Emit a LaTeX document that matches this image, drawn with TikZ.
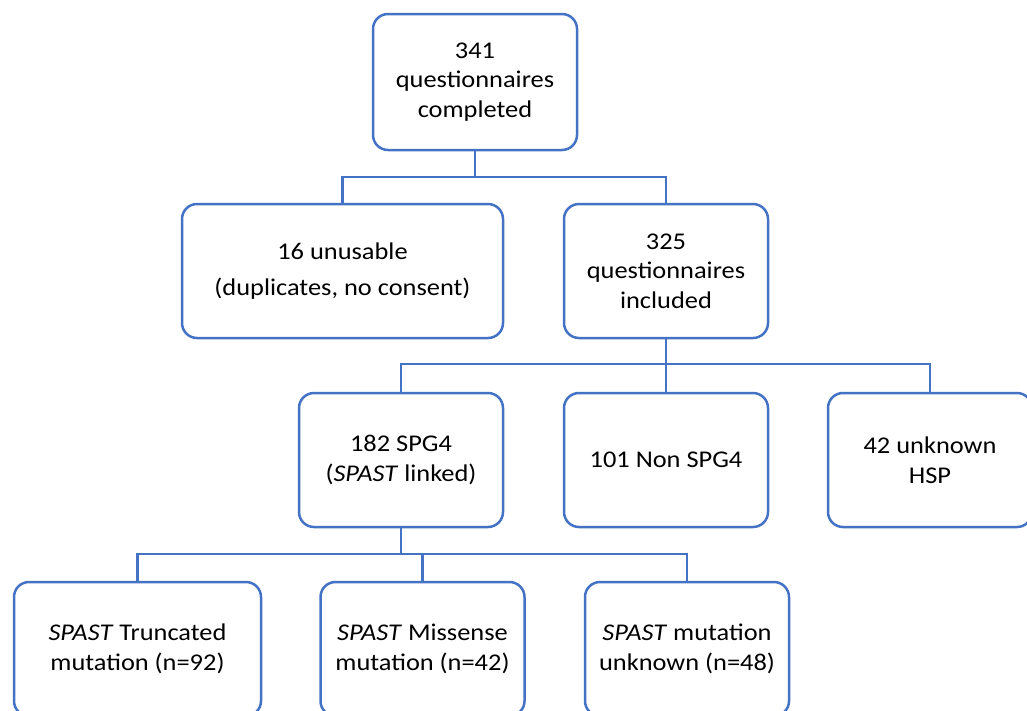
\documentclass[tikz,border=0pt]{standalone}
\usepackage{fontspec}
\setmainfont{Carlito}[FakeStretch=1.1]
\definecolor{boxblue}{RGB}{68,114,196}
\begin{document}
\begin{tikzpicture}[x=1pt,y=-1pt,
  box/.style={draw=boxblue, line width=2.5pt, rounded corners=15pt, align=center,
    inner sep=0pt, font=\fontsize{24}{29.5}\selectfont, minimum height=134pt},
  conn/.style={draw=boxblue, line width=2.5pt}]
\useasboundingbox[fill=white] (0,0) rectangle (1027,710);
\clip (0,0) rectangle (1027,710);
\node[box, minimum width=204pt, minimum height=136pt] (top) at (475,82) {341\\questionnaires\\completed};
\node[box, minimum width=321pt] (unus) at (342.5,271) {16 unusable\\[7pt](duplicates, no consent)};
\node[box, minimum width=204pt] (incl) at (666,271) {325\\questionnaires\\included};
\node[box, minimum width=204pt] (spg4) at (401,460) {182 SPG4\\(\textit{SPAST} linked)};
\node[box, minimum width=204pt] (non) at (666,460) {101 Non SPG4};
\node[box, minimum width=204pt] (unk) at (930,460) {42 unknown\\HSP};
\node[box, minimum width=247pt] (trunc) at (137.5,649) {\textit{SPAST} Truncated\\mutation (n=92)};
\node[box, minimum width=204pt] (miss) at (422.5,649) {\textit{SPAST} Missense\\mutation (n=42)};
\node[box, minimum width=204pt] (mut) at (687,649) {\textit{SPAST} mutation\\unknown (n=48)};
\coordinate (j1) at (top.south |- 0,177);
\coordinate (j2) at (incl.south |- 0,364);
\coordinate (j3) at (spg4.south |- 0,554);
\draw[conn] (top.south) -- (j1);
\draw[conn] (unus.north) |- (j1) -| (incl.north);
\draw[conn] (incl.south) -- (j2);
\draw[conn] (spg4.north) |- (j2) -| (unk.north);
\draw[conn] (j2) -- (non.north);
\draw[conn] (spg4.south) -- (j3);
\draw[conn] (trunc.north) |- (j3) -| (mut.north);
\draw[conn] (j3 -| miss.north) -- (miss.north);
\end{tikzpicture}
\end{document}
